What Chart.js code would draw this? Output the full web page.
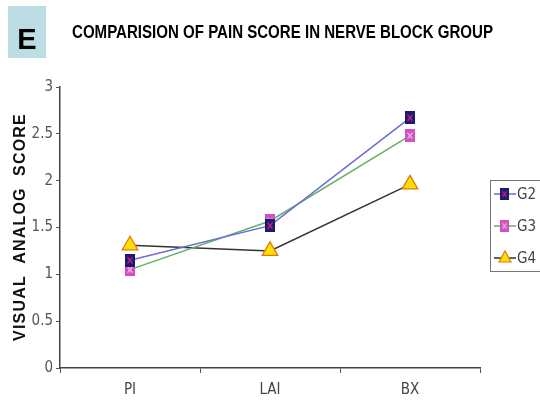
<!DOCTYPE html>
<html><head><meta charset="utf-8">
<script src="https://cdn.jsdelivr.net/npm/chart.js@4/dist/chart.umd.min.js"></script>
<style>
html,body{margin:0;padding:0;background:#fff;}
#wrap{position:relative;width:540px;height:407px;}
canvas{display:block;}
</style></head>
<body><div id="wrap"><canvas id="c" width="540" height="407"></canvas></div>
<script>
const categories = ["PI", "LAI", "BX"];
const seriesNames = ["G2", "G3", "G4"];
const g2Values = [1.15, 1.52, 2.67];
const g3Values = [1.05, 1.57, 2.48];
const g4Values = [1.31, 1.25, 1.96];
const yTicks = [0, 0.5, 1, 1.5, 2, 2.5, 3];
const chartTitle = "COMPARISION OF PAIN SCORE IN NERVE BLOCK GROUP";
const panelLetter = "E";
const yAxisTitle = "VISUAL  ANALOG  SCORE";
const narrow = '"DejaVu Sans Condensed", "Liberation Sans Narrow", "Liberation Sans", Arial';

function makeSquare(fill, mark){
  const c = document.createElement('canvas');
  c.width = 10; c.height = 13;
  const x = c.getContext('2d');
  x.fillStyle = fill; x.fillRect(0,0,10,13);
  x.strokeStyle = mark; x.lineWidth = 1.3;
  x.beginPath(); x.moveTo(2.5,3.5); x.lineTo(7.5,9.5); x.moveTo(7.5,3.5); x.lineTo(2.5,9.5); x.stroke();
  return c;
}
const g2Mark = makeSquare('#1c1a6e', '#d0207a');
const g3Mark = makeSquare('#d050c0', '#f4b0e8');

const ds = [
  {label: seriesNames[0], data: g2Values, borderColor:'#6a6ad8', borderWidth:1.5, pointStyle:g2Mark, backgroundColor:'#1c1a6e'},
  {label: seriesNames[1], data: g3Values, borderColor:'#66b066', borderWidth:1.5, pointStyle:g3Mark, backgroundColor:'#d050c0'},
  {label: seriesNames[2], data: g4Values, borderColor:'#333333', borderWidth:1.5, pointStyle:'triangle', pointRadius:9, pointBackgroundColor:'#ffe000', pointBorderColor:'#e07a10', pointBorderWidth:1.3, backgroundColor:'#ffe000'}
];

const deco = {
  id:'deco',
  afterDraw(chart){
    const ctx = chart.ctx;
    ctx.save();
    ctx.fillStyle = '#bcdde3';
    ctx.fillRect(8,6,38,52);
    ctx.fillStyle = '#000';
    ctx.font = 'bold 29px "Liberation Sans", Arial, sans-serif';
    ctx.textAlign = 'center'; ctx.textBaseline = 'middle';
    ctx.fillText(panelLetter, 27, 41);
    ctx.textAlign = 'left'; ctx.textBaseline = 'alphabetic';
    ctx.font = 'bold 19px "Liberation Sans", Arial, sans-serif';
    ctx.fillText(chartTitle, 72, 38, 421);
    ctx.save();
    ctx.translate(21, 227);
    ctx.rotate(-Math.PI/2);
    ctx.textAlign = 'center'; ctx.textBaseline = 'middle';
    ctx.font = 'bold 16px "Liberation Sans", Arial, sans-serif';
    try { ctx.letterSpacing = '1.2px'; } catch(e) {}
    ctx.fillStyle = '#111';
    ctx.fillText(yAxisTitle, 0, 0, 240);
    try { ctx.letterSpacing = '0px'; } catch(e) {}
    ctx.restore();
    ctx.strokeStyle = '#777'; ctx.lineWidth = 1;
    ctx.strokeRect(490.5, 180.5, 52, 91);
    const ys = [194, 226, 258];
    chart.data.datasets.forEach((d,i)=>{
      const y = ys[i];
      ctx.strokeStyle = d.borderColor; ctx.lineWidth = 1.5;
      ctx.beginPath(); ctx.moveTo(494,y); ctx.lineTo(516,y); ctx.stroke();
      if (d.pointStyle === 'triangle'){
        ctx.fillStyle = d.pointBackgroundColor; ctx.strokeStyle = d.pointBorderColor; ctx.lineWidth=1.2;
        ctx.beginPath(); ctx.moveTo(505,y-7); ctx.lineTo(511,y+4); ctx.lineTo(499,y+4); ctx.closePath(); ctx.fill(); ctx.stroke();
      } else {
        ctx.drawImage(d.pointStyle, 500, y-6, 9, 12);
      }
      ctx.fillStyle = '#444';
      ctx.font = '15px ' + narrow;
      ctx.textAlign = 'left'; ctx.textBaseline = 'middle';
      ctx.fillText(d.label, 517, y+1, 20);
    });
    ctx.restore();
  }
};

new Chart(document.getElementById('c'), {
  type:'line',
  data:{labels:categories, datasets:ds},
  options:{
    responsive:false, animation:false,
    devicePixelRatio:1,
    layout:{padding:{top:87, right:60, left:0, bottom:0}},
    plugins:{legend:{display:false}, tooltip:{enabled:false}},
    elements:{line:{tension:0}, point:{radius:6}},
    scales:{
      x:{
        offset:true,
        grid:{offset:true, drawOnChartArea:false, drawTicks:true, tickLength:5, color:'#555'},
        border:{display:true, color:'#444', width:1.5},
        ticks:{color:'#444', font:{family:narrow, size:15}, padding:8},
        afterFit(s){ s.height = 39; }
      },
      y:{
        min:0, max:3,
        afterBuildTicks(s){ s.ticks = yTicks.map(v=>({value:v})); },
        grid:{drawOnChartArea:false, drawTicks:true, tickLength:4, color:'#555'},
        border:{display:true, color:'#444', width:1.5},
        ticks:{color:'#555', font:{family:narrow, size:15}, padding:3, callback:(v)=>String(v)},
        afterFit(s){ s.width = 60; }
      }
    }
  },
  plugins:[deco]
});
</script></body></html>
